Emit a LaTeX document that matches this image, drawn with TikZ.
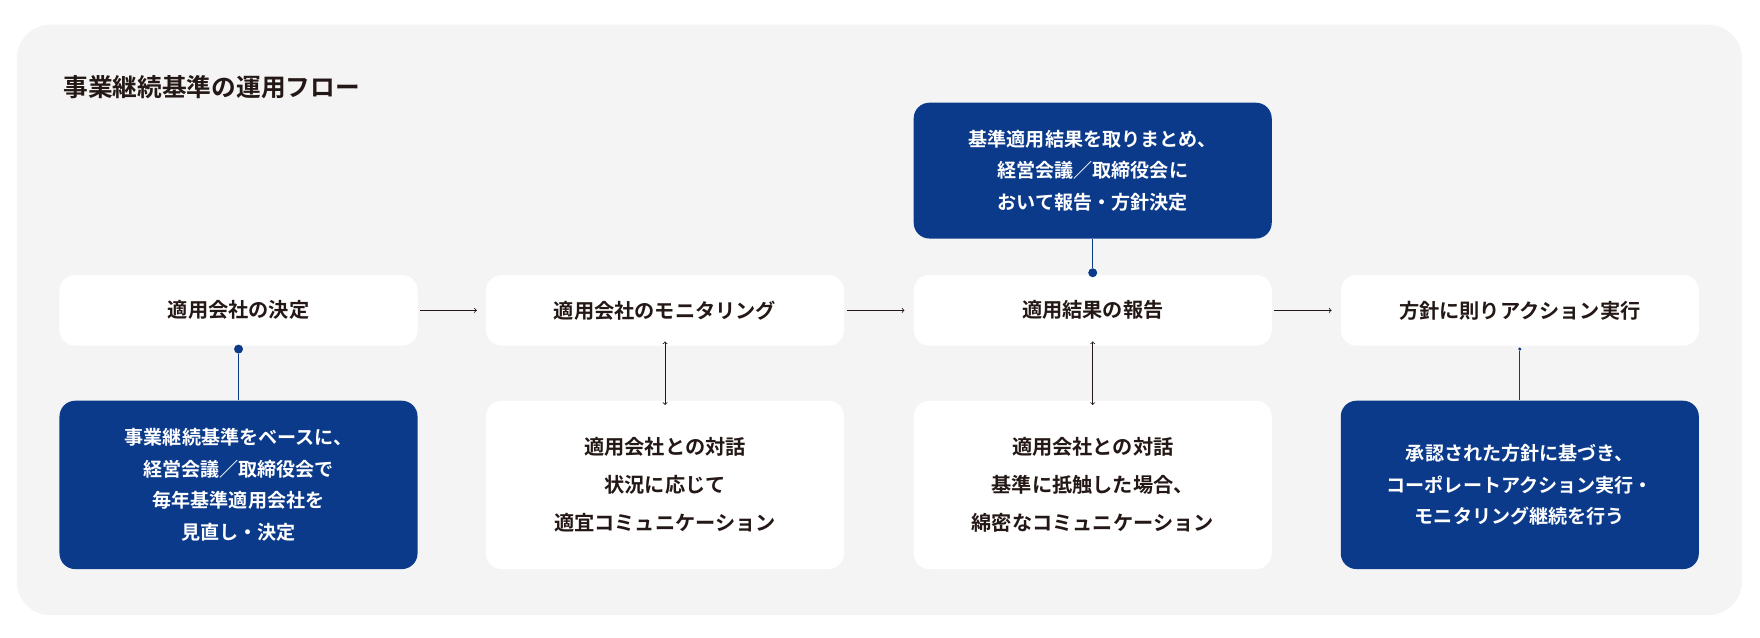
\documentclass[tikz,border=0pt]{standalone}
\usepackage{fontspec}
\setmainfont{Noto Sans CJK JP}[BoldFont={Noto Sans CJK JP Bold}]
\definecolor{navy}{HTML}{0B3A8A}
\definecolor{bg}{HTML}{F4F4F4}
\definecolor{ink}{HTML}{231815}
\begin{document}
\begin{tikzpicture}[x=1pt,y=-1pt,
  wbox/.style={fill=white,rounded corners=14pt,minimum width=319pt,font=\bfseries\fontsize{18}{30}\selectfont,text=ink,align=center,inner sep=0pt},
  bbox/.style={fill=navy,rounded corners=14pt,minimum width=319pt,font=\bfseries\fontsize{17}{28}\selectfont,text=white,align=center,inner sep=0pt},
  conn/.style={draw=ink,line width=0.7pt,-to},
  dconn/.style={draw=ink,line width=0.7pt,to-to},
  dotc/.style={circle,fill=navy,inner sep=0pt,minimum size=8pt},
  vline/.style={draw=navy,line width=0.7pt}]
\useasboundingbox (0,0) rectangle (1568,568);
\fill[bg,rounded corners=30pt] (15,22) rectangle (1552,548);
\node[anchor=west,font=\bfseries\fontsize{22}{26}\selectfont,text=ink] (title) at (53,78) {事業継続基準の運用フロー};
\node[wbox,minimum height=63pt] (a) at (212.5,276.5) {適用会社の決定};
\node[wbox,minimum height=63pt] (b) at (592.5,276.5) {適用会社のモニタリング};
\node[wbox,minimum height=63pt] (c) at (973.5,276.5) {適用結果の報告};
\node[wbox,minimum height=63pt] (d) at (1354,276.5) {方針に則りアクション実行};
\draw[conn] (a.east) ++(2,0) coordinate (a1) -- ([xshift=-8pt]b.west);
\draw[conn] ([xshift=2pt]b.east) -- ([xshift=-8pt]c.west);
\draw[conn] ([xshift=2pt]c.east) -- ([xshift=-8pt]d.west);
\node[bbox,minimum height=121pt] (t) at (973.5,152) {基準適用結果を取りまとめ、\\経営会議／取締役会に\\おいて報告・方針決定};
\node[dotc] (tc) at (973.5,243) {};
\draw[vline] (t.south) -- (tc);
\node[bbox,minimum height=150pt] (e) at (212.5,432) {事業継続基準をベースに、\\経営会議／取締役会で\\毎年基準適用会社を\\見直し・決定};
\node[dotc] (ad) at (212.5,311) {};
\draw[vline] (ad) -- (e.north);
\node[wbox,minimum height=150pt,font=\bfseries\fontsize{18}{34}\selectfont] (f) at (592.5,432) {適用会社との対話\\状況に応じて\\適宜コミュニケーション};
\draw[dconn] ([yshift=4pt]b.south) -- ([yshift=-4pt]f.north);
\node[wbox,minimum height=150pt,font=\bfseries\fontsize{18}{34}\selectfont] (g) at (973.5,432) {適用会社との対話\\基準に抵触した場合、\\綿密なコミュニケーション};
\draw[dconn] ([yshift=4pt]c.south) -- ([yshift=-4pt]g.north);
\node[bbox,minimum height=150pt] (h) at (1354,432) {承認された方針に基づき、\\コーポレートアクション実行・\\モニタリング継続を行う};
\node[dotc,minimum size=3pt] (dd) at (1354,311) {};
\draw[vline] (dd) -- (h.north);
\end{tikzpicture}
\end{document}
